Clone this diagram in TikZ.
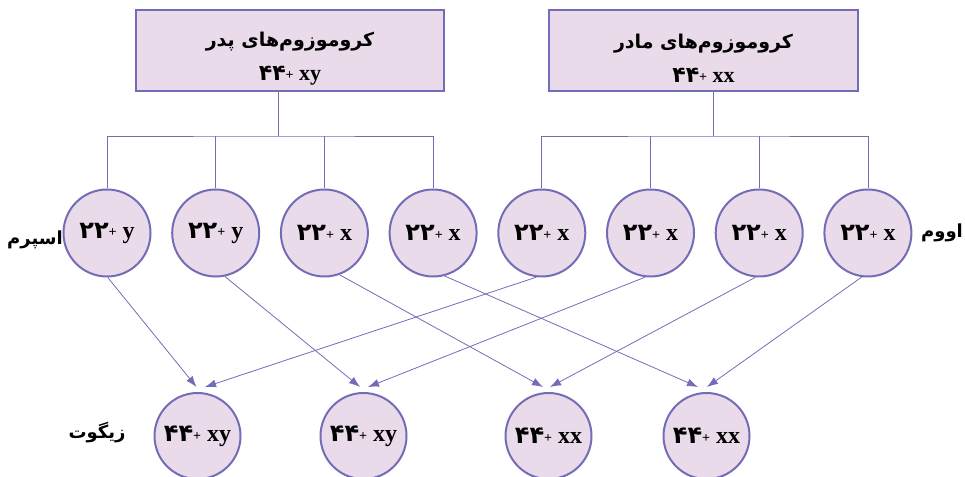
\documentclass[tikz,border=0pt]{standalone}
\usepackage{fontspec}
\setmainfont{Liberation Serif}
\newfontfamily\fa[Script=Arabic]{DejaVu Sans}
\TeXXeTstate=1
\usepackage{tikz}
\usetikzlibrary{arrows.meta, positioning}
\usepackage{xcolor}
\definecolor{cellfill}{RGB}{234,219,234}
\definecolor{cellline}{RGB}{116,108,182}
\newcommand{\pl}{\raisebox{0.1ex}{\fontsize{14}{14}\selectfont+}}

\begin{document}
\begin{tikzpicture}[x=1pt,y=1pt,node distance=108.7pt,font=\bfseries]
  \tikzstyle{cell}=[circle,draw=cellline,fill=cellfill,line width=2pt,minimum size=87pt,inner sep=0pt,font=\bfseries\fontsize{24}{26}\selectfont]
  \tikzstyle{parent}=[rectangle,draw=cellline,fill=cellfill,line width=2.4pt,minimum height=81pt,align=center,font=\bfseries\fontsize{22}{34}\selectfont]
  \tikzstyle{link}=[draw=cellline,line width=0.8pt]
  \tikzstyle{fuse}=[link,-{Latex[length=11pt,width=8pt]}]
  \tikzstyle{word}=[font=\bfseries\fa\fontsize{18}{20}\selectfont,inner sep=1pt]

  \useasboundingbox (0,0) rectangle (965,476);

  % parents
  \node[parent,minimum width=308pt] (father) at (290,425.5)
    {\rule{0pt}{30pt}{\fa\fontsize{19}{20}\selectfont\beginR کروموزوم‌های پدر\endR}\\{\fa ۴۴}\pl{} xy};
  \node[parent,minimum width=309pt] (mother) at (703.5,425.5)
    {\rule{0pt}{30pt}{\fa\fontsize{19}{20}\selectfont\beginR کروموزوم‌های مادر\endR}\\{\fa ۴۴}\pl{} xx};

  % gametes
  \node[cell] (s1) at (107,243)   {{\fa ۲۲}\pl{} y};
  \node[cell] (s2) [right of=s1] {{\fa ۲۲}\pl{} y};
  \node[cell] (s3) [right of=s2] {{\fa ۲۲}\pl{} x};
  \node[cell] (s4) [right of=s3] {{\fa ۲۲}\pl{} x};
  \node[cell] (o1) [right of=s4] {{\fa ۲۲}\pl{} x};
  \node[cell] (o2) [right of=o1] {{\fa ۲۲}\pl{} x};
  \node[cell] (o3) [right of=o2] {{\fa ۲۲}\pl{} x};
  \node[cell] (o4) [right of=o3] {{\fa ۲۲}\pl{} x};

  % zygotes
  \node[cell,minimum size=86pt] (z1) at (197.5,40) {{\fa ۴۴}\pl{} xy};
  \node[cell,minimum size=86pt] (z2) at (363.5,40) {{\fa ۴۴}\pl{} xy};
  \node[cell,minimum size=86pt] (z3) at (548.5,40) {{\fa ۴۴}\pl{} xx};
  \node[cell,minimum size=86pt] (z4) at (706.5,40) {{\fa ۴۴}\pl{} xx};

  % labels
  \node[word] (sperm)  at (35,236)  {\beginR اسپرم\endR};
  \node[word] (ovum)   at (942,243) {\beginR اووم\endR};
  \node[word] (zygote) at (97,43)   {\beginR زیگوت\endR};

  % tree lines
  \coordinate (fj) at (278,340);
  \coordinate (mj) at (713,340);
  \draw[link] (fj) -- (fj |- father.south);
  \draw[link] (mj) -- (mj |- mother.south);
  \draw[link] (s1.north) |- (fj) -| (s4.north);
  \draw[link] (s2.north) -- (s2.north |- fj);
  \draw[link] (s3.north) -- (s3.north |- fj);
  \draw[link] (o1.north) |- (mj) -| (o4.north);
  \draw[link] (o2.north) -- (o2.north |- mj);
  \draw[link] (o3.north) -- (o3.north |- mj);

  % fertilisation
  \draw[fuse] (s1.-89) -- ([xshift=-1pt,yshift=5pt]z1.north);
  \draw[fuse] (o1.-97) -- ([xshift=7.5pt,yshift=5pt]z1.north);
  \draw[fuse] (s2.-78) -- ([xshift=-3.5pt,yshift=5pt]z2.north);
  \draw[fuse] (o2.-97) -- ([xshift=4.5pt,yshift=5pt]z2.north);
  \draw[fuse] (s3.-70) -- ([xshift=-5.5pt,yshift=5pt]z3.north);
  \draw[fuse] (o3.-95) -- ([xshift=1.5pt,yshift=5pt]z3.north);
  \draw[fuse] (s4.-75) -- ([xshift=-8.5pt,yshift=5pt]z4.north);
  \draw[fuse] (o4.-98) -- ([xshift=0.5pt,yshift=5pt]z4.north);
\end{tikzpicture}
\end{document}
